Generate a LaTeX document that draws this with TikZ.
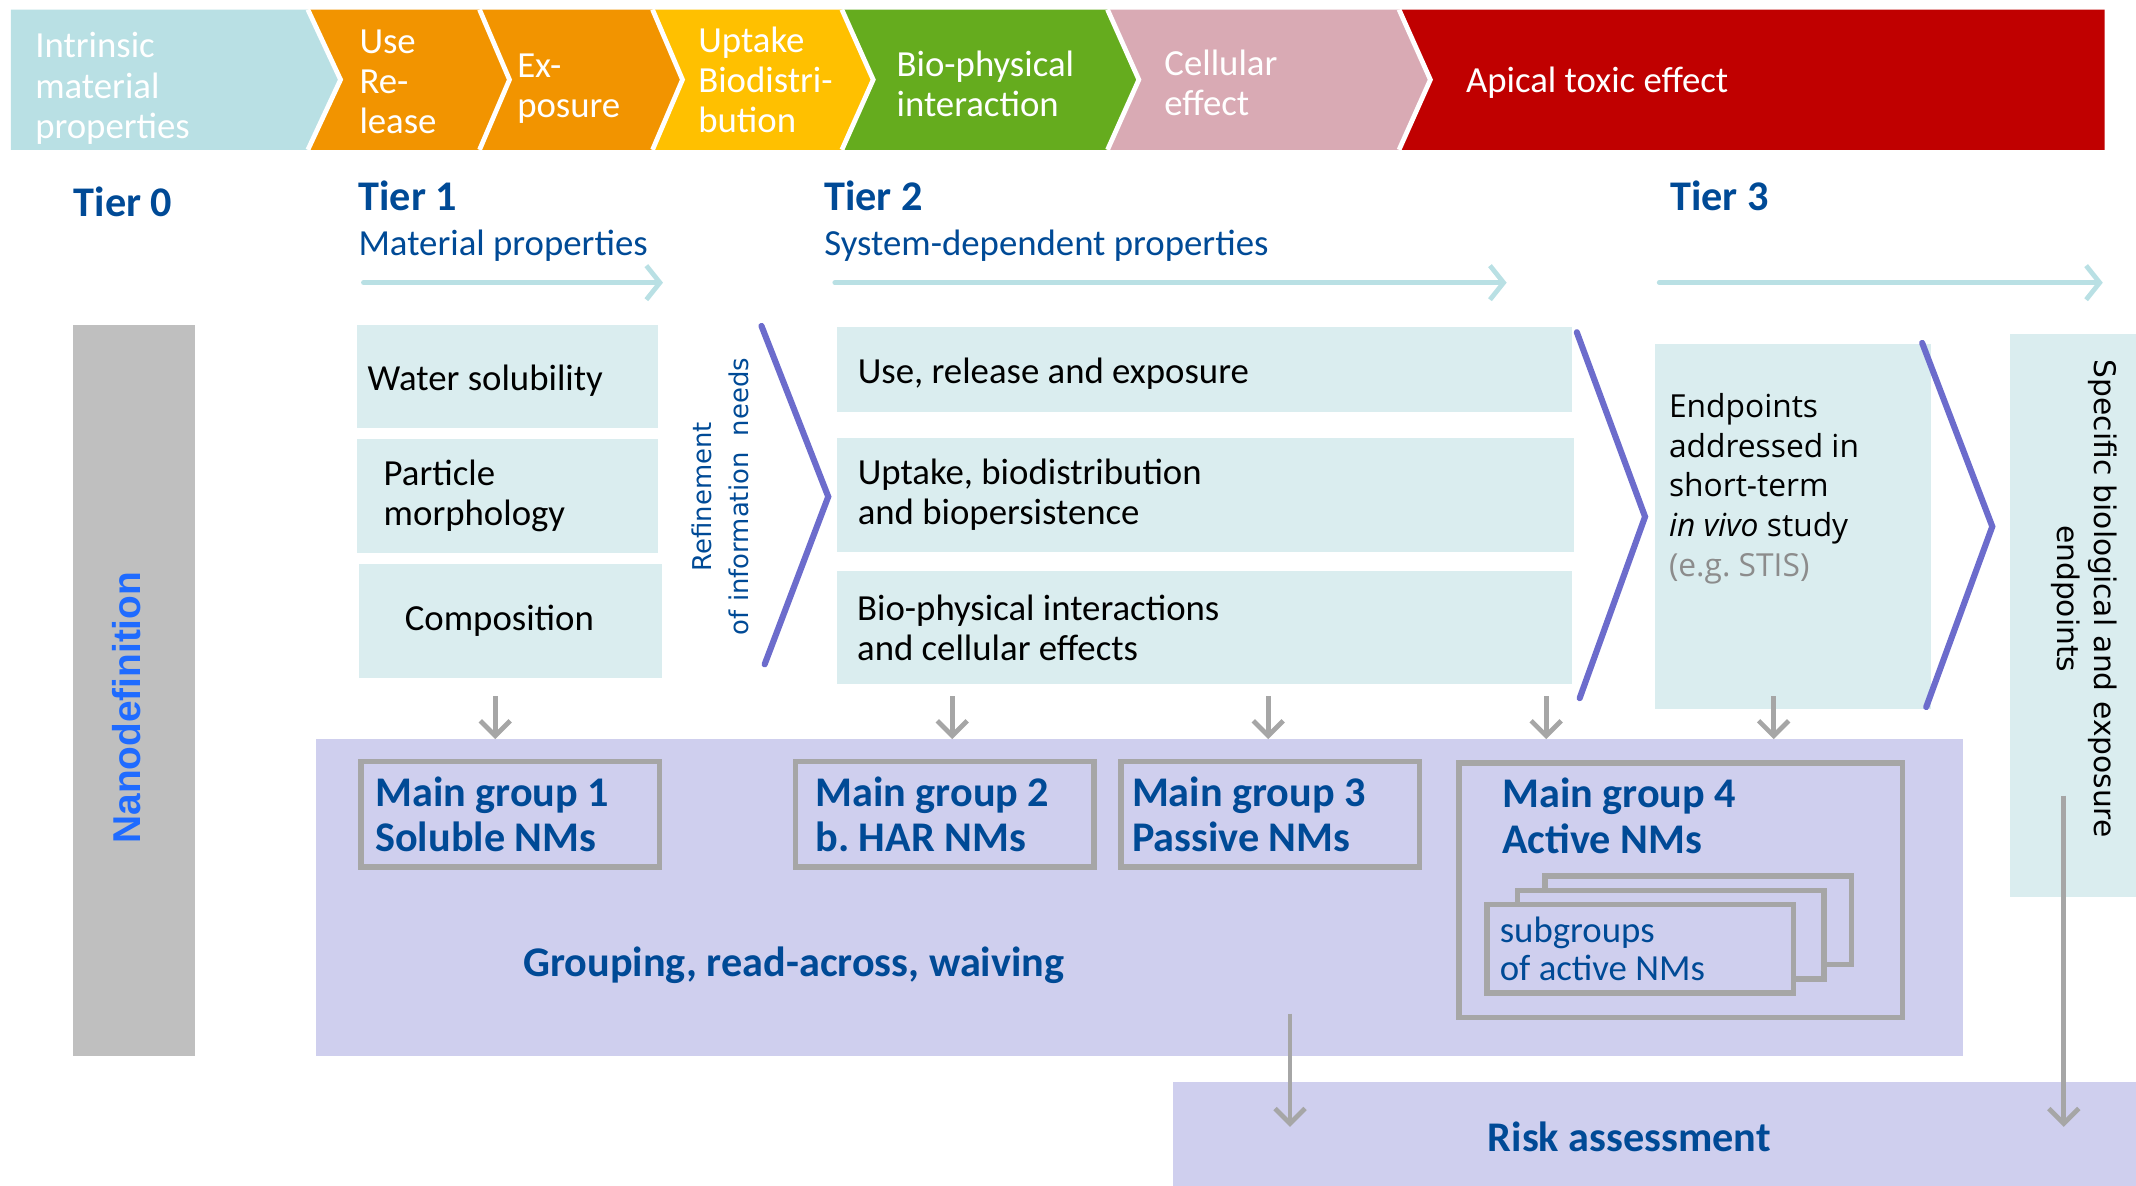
\documentclass[tikz,border=0pt]{standalone}
\usepackage{fontspec}
\setmainfont{Carlito}
\newfontfamily\verdFont{DejaVu Sans}
\newfontfamily\arialFont{Liberation Sans}
\newfontfamily\segoeFont{Open Sans}
\frenchspacing
\usetikzlibrary{arrows.meta, positioning}

\definecolor{basfBlue}{HTML}{004A96}
\definecolor{nanoBlue}{HTML}{1F6BFF}
\definecolor{aqua}{HTML}{B9E0E4}
\definecolor{aquaLight}{HTML}{DAEDEF}
\definecolor{segOrange}{HTML}{F29400}
\definecolor{segGold}{HTML}{FFC000}
\definecolor{segGreen}{HTML}{65AC1E}
\definecolor{segPink}{HTML}{D9AAB4}
\definecolor{segRed}{HTML}{C00000}
\definecolor{chevronBlue}{HTML}{6C6CCC}
\definecolor{lavender}{HTML}{CFCFEE}
\definecolor{midGray}{HTML}{A6A6A6}
\definecolor{barGray}{HTML}{BFBFBF}
\definecolor{stisGray}{HTML}{8C8C8C}

\newcommand*{\bandFont}{\fontsize{27}{29.5}\selectfont}
\newcommand*{\bodyFont}{\fontsize{27}{29.5}\selectfont}
\newcommand*{\tierFont}{\fontsize{31}{33.5}\selectfont\bfseries}
\newcommand*{\subFont}{\fontsize{27}{28.5}\selectfont}
\newcommand*{\nanoFont}{\arialFont\fontsize{28.5}{32}\selectfont\bfseries}
\newcommand*{\refineFont}{\verdFont\fontsize{19}{27.4}\selectfont}
\newcommand*{\specFont}{\verdFont\fontsize{21.8}{27.3}\selectfont}
\newcommand*{\stisFont}{\segoeFont\fontsize{23.3}{29.3}\selectfont}

\tikzset{
    bandtext/.style   = {anchor=north west, inner sep=0pt, align=left, text=white, font=\bandFont},
    notch/.style      = {draw=white, line width=3.5pt},
    tierlabel/.style  = {anchor=base west, inner sep=0pt, text=basfBlue, font=\tierFont},
    propbox/.style    = {anchor=north west, inner ysep=0pt, fill=aquaLight, align=flush left, font=\bodyFont},
    oneline/.style    = {text height=26.5pt, text depth=5.5pt},
    panel/.style      = {anchor=north west, inner sep=0pt},
    mainbox/.style    = {anchor=north west, inner ysep=0pt, draw=midGray, line width=4pt, fill=lavender, align=flush left, text=basfBlue, font=\tierFont},
    subbox/.style     = {anchor=north west, inner ysep=0pt, draw=midGray, line width=4pt, fill=lavender, minimum width=225pt, minimum height=65pt},
    refineline/.style = {draw=chevronBlue, line width=4.5pt, line cap=round},
    tierarrow/.style  = {draw=aqua, line width=3.5pt, line cap=round, -{Straight Barb[length=10pt, width=25pt]}},
    downarrow/.style  = {draw=midGray, line width=3.5pt, -{Straight Barb[length=11pt, width=22pt]}}
}

\begin{document}
\begin{tikzpicture}[x=1pt, y=-1pt]
	\useasboundingbox (0,0) rectangle (1568,870);

	\fill[aqua]      (8,7) -- (226,7) -- (250,58.5) -- (226,110) -- (8,110) -- cycle;
	\fill[segOrange] (226,7) -- (352,7) -- (374,58.5) -- (352,110) -- (226,110) -- (250,58.5) -- cycle;
	\fill[segOrange] (352,7) -- (479,7) -- (501,58.5) -- (479,110) -- (352,110) -- (374,58.5) -- cycle;
	\fill[segGold]   (479,7) -- (618,7) -- (641,58.5) -- (618,110) -- (479,110) -- (501,58.5) -- cycle;
	\fill[segGreen]  (618,7) -- (813,7) -- (836,58.5) -- (813,110) -- (618,110) -- (641,58.5) -- cycle;
	\fill[segPink]   (813,7) -- (1027,7) -- (1050,58.5) -- (1027,110) -- (813,110) -- (836,58.5) -- cycle;
	\fill[segRed]    (1027,7) -- (1545,7) -- (1545,110) -- (1027,110) -- (1050,58.5) -- cycle;
	\draw[notch] (226,7) -- (250,58.5) -- (226,110);
	\draw[notch] (352,7) -- (374,58.5) -- (352,110);
	\draw[notch] (479,7) -- (501,58.5) -- (479,110);
	\draw[notch] (618,7) -- (641,58.5) -- (618,110);
	\draw[notch] (813,7) -- (836,58.5) -- (813,110);
	\draw[notch] (1027,7) -- (1050,58.5) -- (1027,110);

	\node (intrinsic) [bandtext] at (25.7,23.7) {Intrinsic\\material\\properties};
	\node (userel)    [bandtext] at (263.7,21.4) {Use\\Re-\\lease};
	\node (expo)      [bandtext] at (379.5,39.2) {Ex-\\posure};
	\node (uptake)    [bandtext] at (512.4,19.6) {Uptake\\Biodistri-\\bution};
	\node (biophys)   [bandtext] at (658,37.1) {Bio-physical\\interaction};
	\node (cellular)  [bandtext] at (854.6,36.4) {Cellular\\effect};
	\node (apical)    [bandtext] at (1076,49.2) {Apical toxic effect};

	\node (tierzero)  [tierlabel] at (54,158.6) {Tier 0};
	\node (tierone)   [tierlabel] at (263,154.7) {Tier 1};
	\node (tiertwo)   [tierlabel] at (605,154.7) {Tier 2};
	\node (tierthree) [tierlabel] at (1226,154.7) {Tier 3};
	\node (matprop)   [tierlabel, font=\bodyFont] at (263,187.5) {Material properties};
	\node (sysprop)   [tierlabel, font=\bodyFont] at (605,187.5) {System-dependent properties};

	\coordinate (one1)   at (266.8,207.5);
	\coordinate (one2)   at (486.7,207.5);
	\coordinate (two1)   at (612.8,207.5);
	\coordinate (two2)   at (1106,207.5);
	\coordinate (three1) at (1218,207.5);
	\coordinate (three2) at (1543.6,207.5);
	\draw[tierarrow] (one1) -- (one2);
	\draw[tierarrow] (two1) -- (two2);
	\draw[tierarrow] (three1) -- (three2);

	\node (nanobar) [panel, fill=barGray, minimum width=89.4pt, minimum height=536.4pt] at (53.6,238.6) {};
	\node (nano) [rotate=90, inner sep=0pt, text=nanoBlue, font=\nanoFont] at (92.6,519.5) {Nanodefinition};

	\node (water)    [propbox, oneline, inner xsep=7.7pt, text width=205.1pt, minimum height=75.4pt] at (262,238.6) {Water solubility};
	\node (particle) [propbox, inner xsep=19.5pt, text width=181.5pt, minimum height=83.4pt] at (262,322.3) {Particle\\morphology};
	\node (comp)     [propbox, inner xsep=33.6pt, text width=154.8pt, minimum height=83.5pt] at (263.4,414) {Composition};

	\node (refine) [rotate=90, align=center, inner sep=0pt, text=basfBlue, font=\refineFont] at (529,364.5) {Refinement\\of information\ \ needs};

	\node (usebox)    [propbox, oneline, inner xsep=15.5pt, text width=509pt, minimum height=62.2pt] at (614,239.8) {Use, release and exposure};
	\node (uptakebox) [propbox, inner xsep=15pt, text width=510.5pt, minimum height=84pt] at (614.5,321) {Uptake, biodistribution\\and biopersistence};
	\node (biobox)    [propbox, inner xsep=15pt, text width=510pt, minimum height=83pt] at (614,419) {Bio-physical interactions\\and cellular effects};

	\node (stisbox) [panel, fill=aquaLight, minimum width=202pt, minimum height=268pt] at (1215,252) {};
	\node (stis) [anchor=north west, inner sep=0pt, align=left, font=\stisFont] at (1225,288.3) {Endpoints\\addressed in\\short-term\\\textit{in vivo} study\\\textcolor{stisGray}{(e.g. STIS)}};

	\node (specbox) [panel, fill=aquaLight, minimum width=95pt, minimum height=413.6pt] at (1475,245) {};
	\node (spec) [rotate=-90, align=center, inner sep=0pt, font=\specFont] at (1530,439.5) {Specific biological and exposure\\endpoints};

	\draw[refineline] (559,239.3) -- (608,364.6) -- (561.3,487.7);
	\draw[refineline] (1157.5,243.9) -- (1207.6,379.3) -- (1159.6,512.5);
	\draw[refineline] (1411,251.7) -- (1462.5,386.5) -- (1414,519);

	\node (grouping) [panel, fill=lavender, minimum width=1209pt, minimum height=232.4pt] at (232,542.6) {};
	\node (grouptxt) [tierlabel] at (384,716.5) {Grouping, read-across, waiving};

	\node (mgone)   [mainbox, inner xsep=10.5pt, text width=198pt, minimum height=77.6pt] at (263,557) {Main group 1\\Soluble NMs};
	\node (mgtwo)   [mainbox, inner xsep=14.6pt, text width=189.8pt, minimum height=77.6pt] at (582,557) {Main group 2\\b. HAR NMs};
	\node (mgthree) [mainbox, inner xsep=8pt, text width=203pt, minimum height=77.6pt] at (821,557) {Main group 3\\Passive NMs};
	\node (mgfour)  [mainbox, minimum width=325.6pt, minimum height=187pt] at (1069,558) {};
	\node (mgfourtxt) [anchor=north west, inner sep=0pt, align=left, text=basfBlue, font=\tierFont] at (1102.6,571) {Main group 4\\Active NMs};

	\node (subback)  [subbox] at (1132,641) {};
	\node (submid)   [subbox] at (1112,651.7) {};
	\node (subfront) [subbox, inner xsep=9.4pt, text width=206.2pt, align=flush left, text=basfBlue, font=\subFont] at (1089.6,662) {subgroups\\of active NMs};

	\node (risk) [panel, fill=lavender, minimum width=710pt, minimum height=80pt] at (861,794) {};
	\node (risktxt) [tierlabel] at (1092,845) {Risk assessment};

	\coordinate (d1) at (363.6,511);
	\coordinate (d2) at (699,511);
	\coordinate (d3) at (931,511);
	\coordinate (d4) at (1135,511);
	\coordinate (d5) at (1302,511);
	\coordinate (d6) at (947,744);
	\coordinate (d7) at (1515,584);
	\draw[downarrow] (d1) -- (d1 |- grouping.north);
	\draw[downarrow] (d2) -- (d2 |- grouping.north);
	\draw[downarrow] (d3) -- (d3 |- grouping.north);
	\draw[downarrow] (d4) -- (d4 |- grouping.north);
	\draw[downarrow] (d5) -- (d5 |- grouping.north);
	\draw[downarrow] (d6) -- ([yshift=7pt]d6 |- risk.center);
	\draw[downarrow] (d7) -- ([yshift=7pt]d7 |- risk.center);
\end{tikzpicture}
\end{document}
